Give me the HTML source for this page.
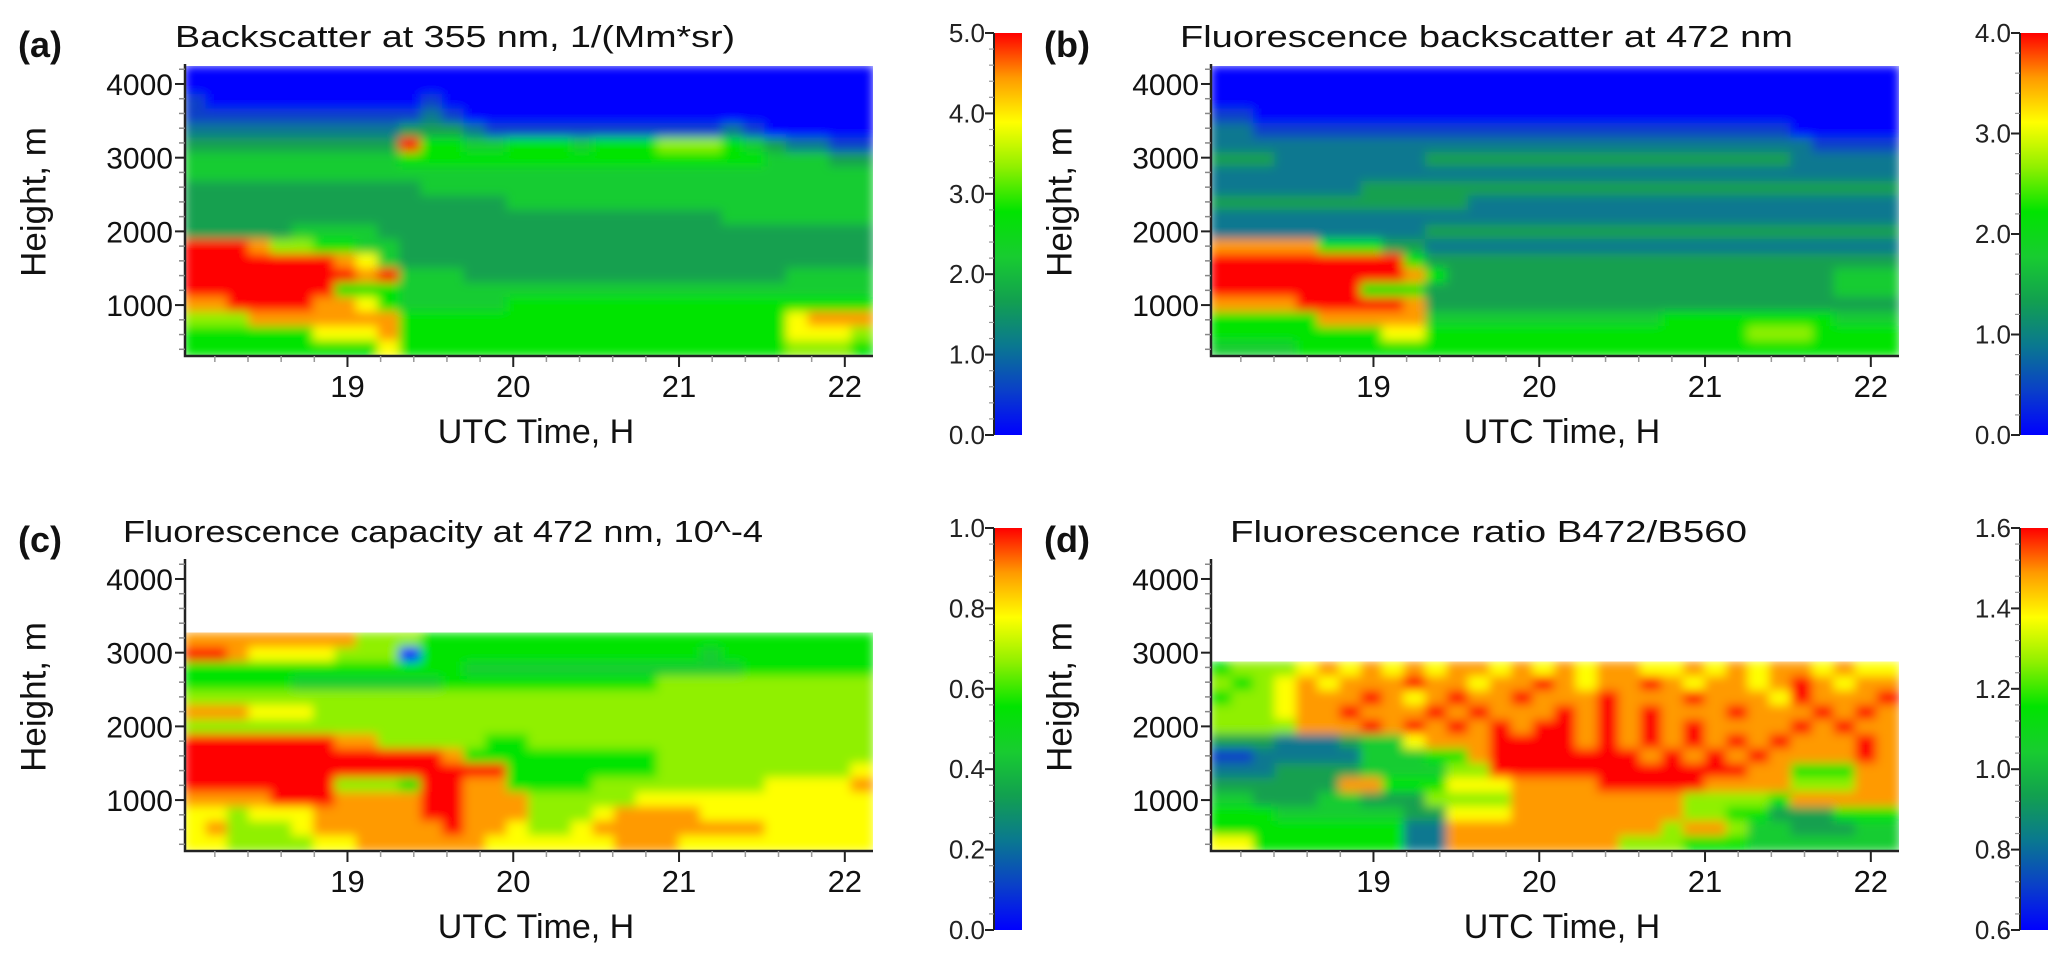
<!DOCTYPE html>
<html><head><meta charset="utf-8"><style>
html,body{margin:0;padding:0;background:#fff;}
svg{display:block;font-family:"Liberation Sans",Arial,sans-serif;}
</style></head><body>
<svg id="fig" width="2067" height="964" viewBox="0 0 2067 964" xmlns="http://www.w3.org/2000/svg">
<defs>
<filter id="soft" x="0" y="0" width="100%" height="100%"><feGaussianBlur stdDeviation="5"/></filter>
</defs>
</svg>
<script>
// ---- data ----
const timeRange = [18.02, 22.17];
const heightRange = [309, 4244];
const xTickValues = [19, 20, 21, 22];
const xTickLabels = ["19", "20", "21", "22"];
const yTickValues = [1000, 2000, 3000, 4000];
const yTickLabels = ["1000", "2000", "3000", "4000"];
const cbTicksA = ["0.0", "1.0", "2.0", "3.0", "4.0", "5.0"];
const cbTicksB = ["0.0", "1.0", "2.0", "3.0", "4.0"];
const cbTicksC = ["0.0", "0.2", "0.4", "0.6", "0.8", "1.0"];
const cbTicksD = ["0.6", "0.8", "1.0", "1.2", "1.4", "1.6"];
const rangeA = [0, 5];
const rangeB = [0, 4];
const rangeC = [0, 1];
const rangeD = [0.6, 1.6];
// grid levels 0..9 (fraction of colour range), rows top->bottom, '.' = no data
const gridA = [
"00000000000000000000000000000000",
"00000000000000000000000000000000",
"10000000000100000000000000000000",
"11111111111210000000000000000000",
"22222222223332111111111112100000",
"33333333339554455545556665432211",
"44444444445555555555555555544433",
"44444444444444444444444444444444",
"33333333333444444444444444444444",
"33333333333333344444444444444444",
"33333333333333333333333334444444",
"33333444433333333333333333333333",
"99986655443333333333333333333333",
"99999998743333333333333333333333",
"99999999894443333333333333334444",
"99999995554444444444444444444444",
"88999988754444455555555555555555",
"66688888885555555555555555557888",
"55555577785555555555555555557776",
"55555555575555555555555555556665"];
const gridB = [
"00000000000000000000000000000000",
"00000000000000000000000000000000",
"00000000000000000000000000000000",
"11000000000000000000000000000000",
"22111111111111111111111111100000",
"22222222222222222222222222221111",
"33322222223333333333333333322222",
"22222222222222222222222222222222",
"22222223333333333333333333333333",
"33333333333322222222222222222222",
"22222222222222222222222222222222",
"22222222223333333333333333333333",
"88888555332222222222222222222222",
"99999999953333333333333333333333",
"99999999985333333333333333333444",
"99999995553333333333333333333444",
"88889999983333333333333333333333",
"55555888884444444444455555555444",
"55555555775555555555555556665555",
"44445555555555555555555555555555"];
const gridC = [
"................................",
"................................",
"................................",
"................................",
"................................",
"88888888666555555555555555555555",
"99877776660555555555555545555555",
"55555555555554444444444444555555",
"55555444444455555555556666666666",
"66666666666666666666666666666666",
"88877766666666666666666666666666",
"66666666666666666666666666666666",
"99999998866666556666666666666666",
"99999999999985555555556666666666",
"99999999999999955555556666666667",
"99999996665998855556666666677778",
"88889998888998886666677777777777",
"77677788888998886667888877777777",
"78666788888898876678888888877777",
"77666677888888777777888777777777"];
const gridD = [
"................................",
"................................",
"................................",
"................................",
"................................",
"................................",
"................................",
"56667878787887878788778787887877",
"65678788898878898788987887898788",
"56678889878988988898889888798889",
"66678898889898889898988898889898",
"66668889898989899898989888898988",
"33322234478889999898989898988898",
"11222224445589999999898989888898",
"22233334444669999999999998855588",
"33333388555777888899999888866688",
"44333443336666888888886666588888",
"55544444433777888888886655333555",
"55555555522888888888868864433344",
"77555555522888888886665554444444"];
const titles = ["Backscatter at 355 nm, 1/(Mm*sr)", "Fluorescence backscatter at 472 nm",
  "Fluorescence capacity at 472 nm, 10^-4", "Fluorescence ratio B472/B560"];

// ---- rendering ----
const NS = "http://www.w3.org/2000/svg";
const svg = document.getElementById("fig");
const stops = ["#0000ff","#0a40c8","#0a7890","#12a050","#18cc30","#00e400","#90f000","#ffff00","#ff9a00","#ff0000"];
function hex(c){return [parseInt(c.substr(1,2),16),parseInt(c.substr(3,2),16),parseInt(c.substr(5,2),16)];}
function colorFor(f){
  f = Math.max(0, Math.min(1, f));
  const p = f * (stops.length - 1), i = Math.min(Math.floor(p), stops.length - 2), t = p - i;
  const a = hex(stops[i]), b = hex(stops[i+1]);
  return "rgb(" + a.map((v,k)=>Math.round(v + (b[k]-v)*t)).join(",") + ")";
}
function mk(tag, attrs, parent){
  const e = document.createElementNS(NS, tag);
  for (const k in attrs) e.setAttribute(k, attrs[k]);
  (parent || svg).appendChild(e);
  return e;
}
const panels = [
  {id:"a", ox:0, oy:0, grid:gridA, range:rangeA, cb:cbTicksA, title:titles[0], tx:175, tw:560},
  {id:"b", ox:1026, oy:0, grid:gridB, range:rangeB, cb:cbTicksB, title:titles[1], tx:1180, tw:613},
  {id:"c", ox:0, oy:495, grid:gridC, range:rangeC, cb:cbTicksC, title:titles[2], tx:123, tw:640},
  {id:"d", ox:1026, oy:495, grid:gridD, range:rangeD, cb:cbTicksD, title:titles[3], tx:1230, tw:517}
];
panels.forEach(P => {
  const g = mk("g", {});
  
  
  const X0 = 185 + P.ox, X1 = 873 + P.ox, YT = 66 + P.oy, YB = 356 + P.oy;
  const xs = t => X0 + (t - timeRange[0]) / (timeRange[1] - timeRange[0]) * (X1 - X0);
  const ys = h => YB - (h - heightRange[0]) / (heightRange[1] - heightRange[0]) * (YB - YT);
  const lab = mk("text", {x:P.ox+18, y:P.oy+57, "font-size":36, "font-weight":"bold", fill:"#111"}, g);
  lab.textContent = "(" + P.id + ")";
  
  
  const tt = mk("text", {x:P.tx, y:P.oy+47, "font-size":31, fill:"#111", textLength:P.tw, lengthAdjust:"spacingAndGlyphs"}, g);
  tt.textContent = P.title;
  
  
  const clipId = "clip" + P.id;
  const cp = mk("clipPath", {id:clipId}, g);
  mk("rect", {x:X0, y:YT, width:X1-X0, height:YB-YT}, cp);
  const hg = mk("g", {"clip-path":"url(#"+clipId+")"}, g);
  const hm = mk("g", {filter:"url(#soft)"}, hg);
  
  
  const nr = P.grid.length, nc = P.grid[0].length;
  const dt = (timeRange[1]-timeRange[0]) / nc, dh = (heightRange[1]-heightRange[0]) / nr;
  for (let r = 0; r < nr; r++) {
    for (let c = 0; c < nc; c++) {
      const ch = P.grid[r][c];
      if (ch === ".") continue;
      const value = P.range[0] + (+ch) / 9 * (P.range[1] - P.range[0]);
      const f = (value - P.range[0]) / (P.range[1] - P.range[0]);
      const t0 = timeRange[0] + c*dt, h1 = heightRange[1] - r*dh;
      const x = xs(t0), y = ys(h1);
      const cell = mk("rect", {x:x-1, y:y-1, width:xs(t0+dt)-x+2, height:ys(h1-dh)-y+2, fill:colorFor(f)}, hm);
      
      
    }
  }
  const ax = mk("path", {d:"M"+X0+","+(YT-2)+"V"+YB+"H"+X1, stroke:"#222", "stroke-width":2.5, fill:"none"}, g);
  
  
  for (let h = 400; h <= 4200; h += 200) {
    const y = ys(h), major = h % 1000 === 0;
    mk("line", {x1:X0-(major?10:6), x2:X0, y1:y, y2:y, stroke:major?"#222":"#888", "stroke-width":major?2:1.5}, g);
  }
  yTickValues.forEach((v,i) => {
    const t = mk("text", {x:X0-12, y:ys(v)+11, "font-size":30, "text-anchor":"end", fill:"#111"}, g);
    t.textContent = yTickLabels[i];
    
    
  });
  for (let k = 0; k <= 20; k++) {
    const tv = 18.2 + k*0.2;
    if (tv > timeRange[1]) break;
    const major = Math.abs(tv - Math.round(tv)) < 1e-6;
    mk("line", {x1:xs(tv), x2:xs(tv), y1:YB, y2:YB+(major?11:6), stroke:major?"#222":"#999", "stroke-width":major?2:1.5}, g);
  }
  xTickValues.forEach((v,i) => {
    const t = mk("text", {x:xs(v), y:P.oy+397, "font-size":31, "text-anchor":"middle", fill:"#111"}, g);
    t.textContent = xTickLabels[i];
    
    
  });
  const xt = mk("text", {x:P.ox+536, y:P.oy+443, "font-size":34, "text-anchor":"middle", fill:"#111"}, g);
  xt.textContent = "UTC Time, H";
  
  
  const yt = mk("text", {x:0, y:0, "font-size":35, "text-anchor":"middle", "dominant-baseline":"central", fill:"#111", transform:"translate("+(P.ox+34)+","+(P.oy+202)+") rotate(-90)"}, g);
  yt.textContent = "Height, m";
  
  
  const CX = 994 + P.ox, CW = 28, CT = 33 + P.oy, CB = 435 + P.oy;
  const gid = "cbg" + P.id;
  const lg = mk("linearGradient", {id:gid, x1:0, y1:1, x2:0, y2:0}, g);
  for (let s = 0; s <= 18; s++) mk("stop", {offset:(s/18), "stop-color":colorFor(s/18)}, lg);
  const bar = mk("rect", {x:CX, y:CT, width:CW, height:CB-CT, fill:"url(#"+gid+")"}, g);
  
  
  mk("line", {x1:CX, x2:CX, y1:CT, y2:CB, stroke:"#222", "stroke-width":2}, g);
  const n = P.cb.length - 1;
  for (let k = 0; k <= n*5; k++) {
    const y = CB - k/(n*5) * (CB-CT), major = k % 5 === 0;
    mk("line", {x1:CX-(major?9:5), x2:CX, y1:y, y2:y, stroke:major?"#222":"#999", "stroke-width":major?2:1.2}, g);
  }
  P.cb.forEach((lbl,i) => {
    const t = mk("text", {x:CX-9, y:CB - i/n*(CB-CT) + 9, "font-size":26, "text-anchor":"end", fill:"#222"}, g);
    t.textContent = lbl;
    
    
  });
});
</script>
</body></html>
